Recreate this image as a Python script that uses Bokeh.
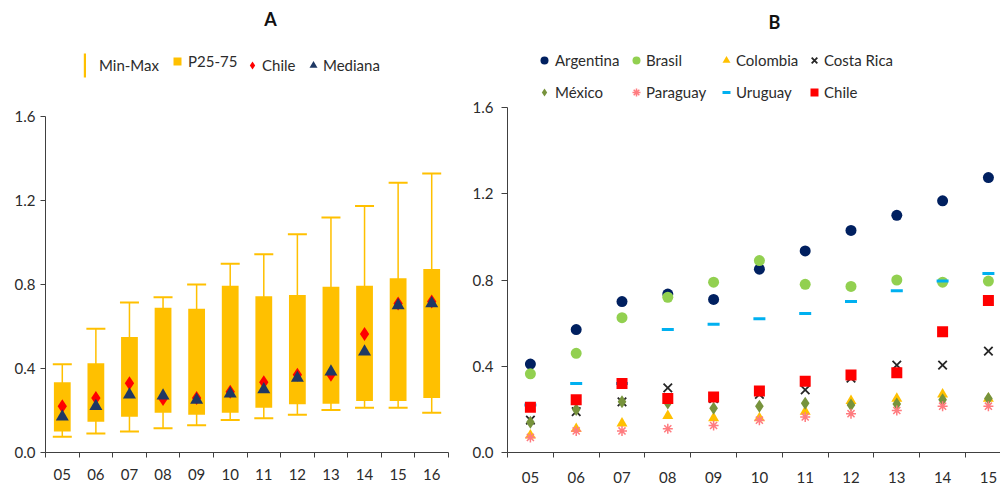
import numpy as np
from bokeh.plotting import figure
from bokeh.models import (Range1d, FixedTicker, NumeralTickFormatter, Legend,
                          LegendItem, Label, ColumnDataSource)
from bokeh.layouts import row
from bokeh.embed import file_html
from bokeh.resources import INLINE

# ---------------- data: panel A ----------------
years_a = ["05", "06", "07", "08", "09", "10", "11", "12", "13", "14", "15", "16"]
a_min = [0.075, 0.09, 0.10, 0.115, 0.13, 0.155, 0.163, 0.18, 0.203, 0.213, 0.213, 0.19]
a_p25 = [0.10, 0.147, 0.17, 0.19, 0.18, 0.19, 0.213, 0.23, 0.232, 0.245, 0.245, 0.26]
a_p75 = [0.335, 0.425, 0.55, 0.69, 0.685, 0.795, 0.745, 0.75, 0.79, 0.795, 0.83, 0.875]
a_max = [0.42, 0.59, 0.715, 0.74, 0.80, 0.90, 0.945, 1.04, 1.12, 1.175, 1.285, 1.33]
a_chile = [0.22, 0.26, 0.33, 0.255, 0.26, 0.29, 0.335, 0.37, 0.37, 0.565, 0.71, 0.72]
a_median = [0.17, 0.22, 0.275, 0.27, 0.25, 0.28, 0.30, 0.355, 0.385, 0.48, 0.70, 0.71]

# ---------------- data: panel B ----------------
years_b = ["05", "06", "07", "08", "09", "10", "11", "12", "13", "14", "15"]
argentina = [0.41, 0.57, 0.70, 0.735, 0.71, 0.85, 0.935, 1.03, 1.10, 1.167, 1.275]
brasil = [0.365, 0.46, 0.625, 0.72, 0.79, 0.89, 0.78, 0.77, 0.80, 0.79, 0.795]
colombia = [0.08, 0.11, 0.135, 0.17, 0.16, 0.16, 0.19, 0.24, 0.25, 0.27, 0.25]
costa_rica = [0.15, 0.19, 0.235, 0.30, 0.25, 0.27, 0.29, 0.345, 0.405, 0.405, 0.47]
mexico = [0.14, 0.20, 0.235, 0.23, 0.205, 0.215, 0.228, 0.22, 0.225, 0.245, 0.25]
paraguay = [0.07, 0.10, 0.10, 0.11, 0.125, 0.15, 0.165, 0.18, 0.195, 0.215, 0.215]
uruguay = [0.22, 0.32, 0.32, 0.57, 0.595, 0.62, 0.645, 0.70, 0.75, 0.795, 0.83]
chile_b = [0.21, 0.245, 0.32, 0.25, 0.257, 0.285, 0.33, 0.36, 0.37, 0.56, 0.705]

y_ticks = [0.0, 0.4, 0.8, 1.2, 1.6]

FONT = "Lato"
ORANGE = "#FFC000"
AXIS = "#404040"
TXT = "#2b2b2b"

def style_axes(p, labels, x_standoff, y_tick, y_standoff):
    p.xgrid.visible = False
    p.ygrid.visible = False
    p.outline_line_color = None
    p.background_fill_color = "white"
    p.border_fill_color = "white"
    n = len(labels)
    xa = p.xaxis[0]
    xa.ticker = FixedTicker(ticks=list(range(n)), minor_ticks=[i - 0.5 for i in range(n + 1)])
    xa.major_label_overrides = {i: lab for i, lab in enumerate(labels)}
    xa.major_tick_out = 0
    xa.major_tick_in = 0
    xa.major_tick_line_color = None
    xa.minor_tick_out = 5
    xa.minor_tick_in = 0
    xa.minor_tick_line_color = AXIS
    xa.axis_line_color = AXIS
    xa.major_label_standoff = x_standoff
    xa.major_label_text_font = FONT
    xa.major_label_text_font_size = "15px"
    xa.major_label_text_color = TXT
    ya = p.yaxis[0]
    ya.bounds = (0, 1.6)
    ya.ticker = FixedTicker(ticks=y_ticks)
    ya.formatter = NumeralTickFormatter(format="0.0")
    ya.major_tick_out = y_tick
    ya.major_tick_in = 0
    ya.minor_tick_line_color = None
    ya.major_tick_line_color = AXIS
    ya.axis_line_color = AXIS
    ya.major_label_standoff = y_standoff
    ya.major_label_text_font = FONT
    ya.major_label_text_font_size = "15px"
    ya.major_label_text_color = TXT

def one_legend(p, items, left, bottom, gw, gh, standoff, spacing=0):
    lg = Legend(items=items, location=(int(left), int(bottom)), orientation="vertical",
                glyph_width=int(gw), glyph_height=int(gh), label_height=int(gh), label_width=10,
                label_standoff=int(standoff), spacing=int(spacing), padding=0, margin=0,
                border_line_color=None, background_fill_alpha=0,
                label_text_font=FONT, label_text_font_size="15px",
                label_text_color=TXT)
    p.add_layout(lg)
    return lg

H = 485

# ================= Panel A =================
A_W = 460
A_LEFT = 45                 # frame left (page px)
A_RIGHT = 448               # frame right (page px)
A_ZERO = 455                # page y of 0.0
A_TOP = 117                 # page y of 1.6
a_scale = (A_ZERO - A_TOP) / 1.6
pA = figure(width=A_W, height=H, output_backend="svg", toolbar_location=None,
            x_range=Range1d(-0.5, len(years_a) - 0.5),
            y_range=Range1d(0, A_ZERO / a_scale),
            min_border_left=A_LEFT, min_border_right=A_W - A_RIGHT,
            min_border_top=0, min_border_bottom=H - A_ZERO)
style_axes(pA, years_a, 11, 5, 5)

srcA = ColumnDataSource(dict(x=list(range(len(years_a))), mn=a_min, q1=a_p25, q3=a_p75,
                             mx=a_max, chile=a_chile, med=a_median))
whisk_r = pA.vbar(x="x", width=0.045, bottom="mn", top="mx", source=srcA,
                  fill_color=ORANGE, line_color=None)
pA.scatter(x="x", y="mn", source=srcA, marker="dash", size=19, line_color=ORANGE, line_width=2)
pA.scatter(x="x", y="mx", source=srcA, marker="dash", size=19, line_color=ORANGE, line_width=2)
box_r = pA.vbar(x="x", width=0.5, bottom="q1", top="q3", source=srcA,
                fill_color=ORANGE, line_color=None)
chile_r = pA.scatter(x="x", y="chile", source=srcA, marker="diamond",
                     size=14, fill_color="#FF0000", line_color=None)
med_r = pA.scatter(x="x", y="med", source=srcA, marker="triangle", size=13,
                   fill_color="#1F3864", line_color=None)

# legend A (row centre at page y 68); x given as glyph centres in page px
cyA = A_ZERO - 68
one_legend(pA, [LegendItem(label="Min-Max", renderers=[whisk_r])], 84 - 1 - A_LEFT, cyA - 15, 3, 30, 13)
one_legend(pA, [LegendItem(label="P25-75", renderers=[box_r])], 177 - 5 - A_LEFT, cyA - 5, 10, 10, 6)
one_legend(pA, [LegendItem(label="Chile", renderers=[chile_r])], 252 - 10 - A_LEFT, cyA - 10, 20, 20, 0)
one_legend(pA, [LegendItem(label="Mediana", renderers=[med_r])], 313 - 10 - A_LEFT, cyA - 10, 20, 20, 0)

pA.add_layout(Label(x=270 - A_LEFT, y=A_ZERO - 21, x_units="screen", y_units="screen", text="A",
                    text_font=FONT, text_font_style="bold", text_font_size="18px",
                    text_align="center", text_baseline="middle", text_color="#111111"))

# ================= Panel B =================
B_X0 = A_W                  # page x where panel B starts
B_W = 1000 - A_W
B_LEFT = 507                # frame left (page px)
B_ZERO = 452
B_TOP = 107
B_CAT = 45.8                # px per category
b_scale = (B_ZERO - B_TOP) / 1.6
pB = figure(width=B_W, height=H, output_backend="svg", toolbar_location=None,
            x_range=Range1d(-0.5, -0.5 + (1000 - B_LEFT) / B_CAT),
            y_range=Range1d(0, B_ZERO / b_scale),
            min_border_left=B_LEFT - B_X0, min_border_right=0,
            min_border_top=0, min_border_bottom=H - B_ZERO)
style_axes(pB, years_b, 14, 6, 8)

xb = list(range(len(years_b)))
srcB = ColumnDataSource(dict(x=xb, arg=argentina, bra=brasil, col=colombia, cr=costa_rica,
                             mex=mexico, par=paraguay, uru=uruguay, chi=chile_b))
r_arg = pB.scatter("x", "arg", source=srcB, marker="circle", size=11,
                   fill_color="#002060", line_color=None)
r_bra = pB.scatter("x", "bra", source=srcB, marker="circle", size=11,
                   fill_color="#92D050", line_color=None)
r_col = pB.scatter("x", "col", source=srcB, marker="triangle", size=11,
                   fill_color=ORANGE, line_color=None)
r_cr = pB.scatter("x", "cr", source=srcB, marker="x", size=12,
                  line_color="#262626", line_width=1.8)
r_mex = pB.scatter("x", "mex", source=srcB, marker="diamond", size=13,
                   fill_color="#77933C", line_color=None)
r_par = pB.scatter("x", "par", source=srcB, marker="asterisk", size=10,
                   line_color="#FF7C80", line_width=1.5)
r_uru = pB.scatter("x", "uru", source=srcB, marker="dash", size=12,
                   line_color="#00B0F0", line_width=3)
r_chi = pB.scatter("x", "chi", source=srcB, marker="square", size=11,
                   fill_color="#FF0000", line_color=None)

# legend B: 4 columns x 2 rows, row centres at page y 60 and 92
lb_bottom = B_ZERO - (92 + 10)
one_legend(pB, [LegendItem(label="Argentina", renderers=[r_arg]),
                LegendItem(label="México", renderers=[r_mex])], 544 - 10 - B_LEFT, lb_bottom, 20, 20, 1, 12)
one_legend(pB, [LegendItem(label="Brasil", renderers=[r_bra]),
                LegendItem(label="Paraguay", renderers=[r_par])], 636 - 10 - B_LEFT, lb_bottom, 20, 20, 0, 12)
one_legend(pB, [LegendItem(label="Colombia", renderers=[r_col]),
                LegendItem(label="Uruguay", renderers=[r_uru])], 726 - 10 - B_LEFT, lb_bottom, 20, 20, 0, 12)
one_legend(pB, [LegendItem(label="Costa Rica", renderers=[r_cr]),
                LegendItem(label="Chile", renderers=[r_chi])], 814 - 10 - B_LEFT, lb_bottom, 20, 20, 0, 12)

pB.add_layout(Label(x=774 - B_LEFT, y=B_ZERO - 21, x_units="screen", y_units="screen", text="B",
                    text_font=FONT, text_font_style="bold", text_font_size="18px",
                    text_align="center", text_baseline="middle", text_color="#111111"))

layout = row(pA, pB)
open("out.html", "w").write(file_html(layout, INLINE))
